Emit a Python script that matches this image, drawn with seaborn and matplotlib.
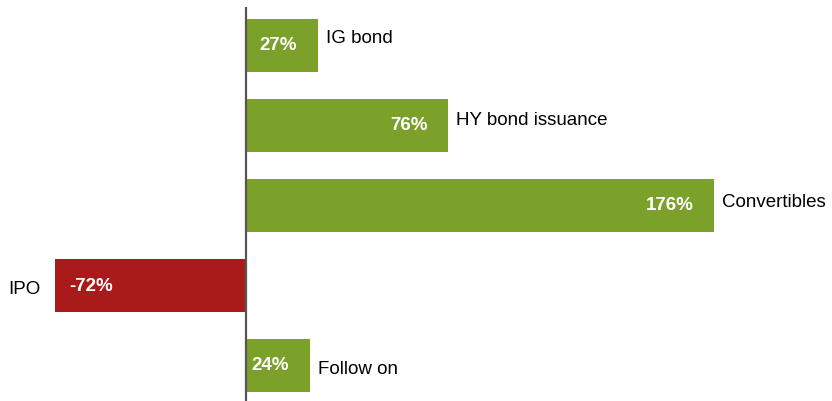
import matplotlib
matplotlib.use("Agg")
import matplotlib.pyplot as plt
import seaborn as sns
import pandas as pd

# Year-on-year change by issuance type
categories = ["IG bond", "HY bond issuance", "Convertibles", "IPO", "Follow on"]
changes = [27, 76, 176, -72, 24]
value_labels = ["27%", "76%", "176%", "-72%", "24%"]

GREEN = "#7BA12B"
RED = "#A81B1A"

df = pd.DataFrame({"category": categories, "change": changes})
df["sign"] = ["pos" if v >= 0 else "neg" for v in changes]

sns.set_theme(style="white")
plt.rcParams["font.family"] = ["Liberation Sans", "DejaVu Sans"]

fig = plt.figure(figsize=(8.32, 4.02), dpi=100)
ax = fig.add_axes([0, 0, 1, 1])

sns.barplot(data=df, x="change", y="category", hue="sign",
            palette={"pos": GREEN, "neg": RED}, width=0.66,
            dodge=False, legend=False, saturation=1, linewidth=0,
            ax=ax, orient="h")

ax.set_xlim(-92.5, 220.3)
ax.set_ylim(4.444, -0.581)

# zero line
ax.plot([0, 0], [-0.48, 4.5], color="#555555", lw=1.6, zorder=5,
        solid_capstyle="butt", clip_on=False)

# vertical nudge of the category names (in bar-slot units)
name_nudge = [-0.10, -0.075, -0.05, 0.035, 0.035]

FS = 13.5
for i, (v, lab, cat) in enumerate(zip(changes, value_labels, categories)):
    if v >= 0:
        ax.text(v - 7.8, i - 0.01, lab, color="white", fontsize=FS,
                fontweight="bold", ha="right", va="center")
        ax.text(v + 3.0, i + name_nudge[i], cat, color="black", fontsize=FS,
                ha="left", va="center")
    else:
        ax.text(v + 5.7, i, lab, color="white", fontsize=FS,
                fontweight="bold", ha="left", va="center")
        ax.text(v - 5.2, i + name_nudge[i], cat, color="black", fontsize=FS,
                ha="right", va="center")

ax.set_axis_off()
fig.savefig("out.png", dpi=100)
